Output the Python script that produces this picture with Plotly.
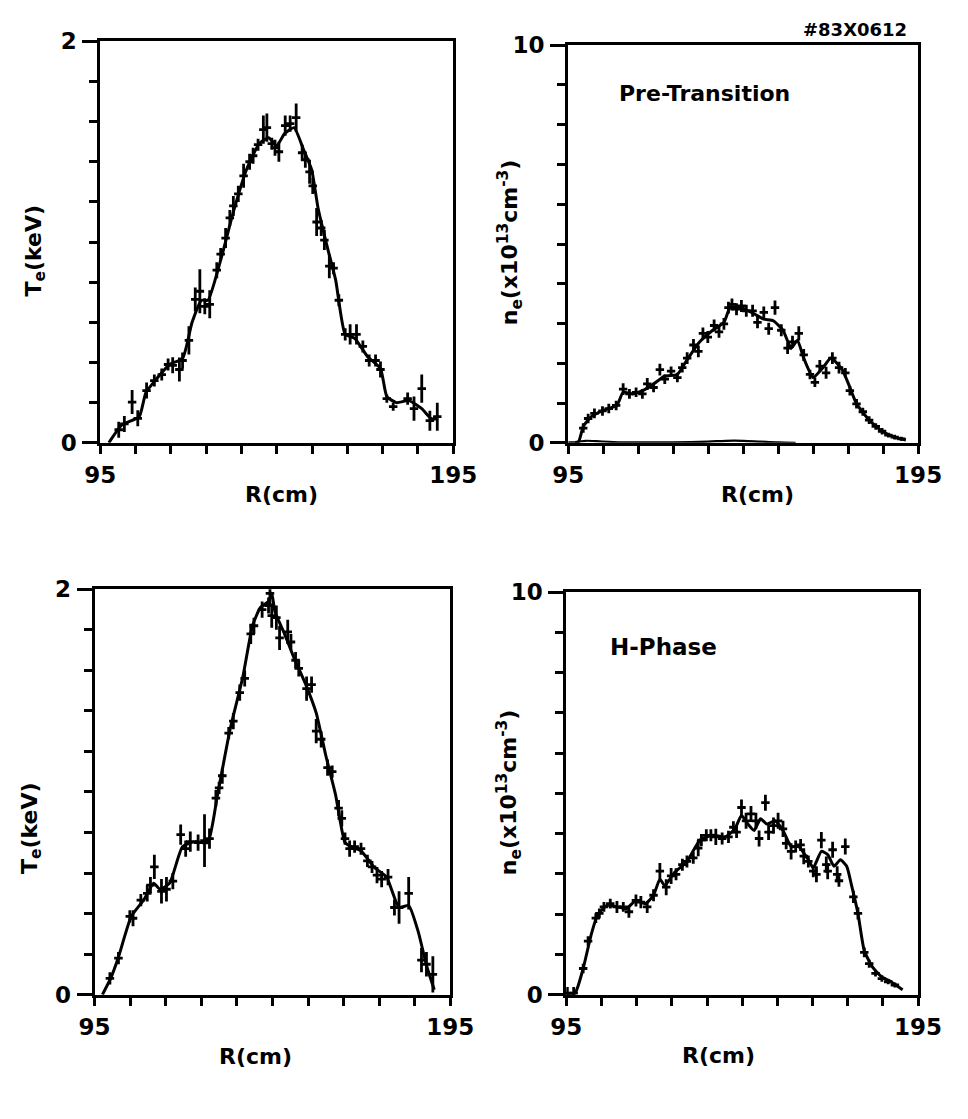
import plotly.graph_objects as go

# ---------------- Pre-transition Te ----------------
R_te_pre = [100.2, 101.8, 104.0, 105.6, 108.1, 110.3, 112.4, 114.2, 115.5, 117.4, 118.3, 120.1,
            121.9, 123.2, 124.6, 126.0, 128.0, 129.1, 130.5, 131.7, 132.7, 134.1, 135.6, 137.3,
            138.3, 139.7, 141.2, 142.2, 143.6, 144.5, 145.6, 147.4, 148.8, 150.5, 152.2, 153.1,
            154.3, 155.2, 156.3, 157.6, 158.5, 159.9, 161.1, 162.6, 164.4, 165.8, 167.6, 169.4,
            171.2, 173.0, 174.4, 176.2, 178.0, 182.1, 183.9, 186.1, 188.4, 190.5]
Te_pre = [0.065, 0.094, 0.203, 0.122, 0.26, 0.31, 0.34, 0.39, 0.386, 0.365, 0.41, 0.51,
          0.714, 0.755, 0.68, 0.69, 0.86, 0.94, 1.02, 1.12, 1.18, 1.24, 1.33, 1.40,
          1.43, 1.485, 1.56, 1.57, 1.49, 1.47, 1.45, 1.58, 1.59, 1.62, 1.445, 1.41,
          1.35, 1.28, 1.10, 1.07, 1.01, 0.88, 0.87, 0.71, 0.54, 0.54, 0.54, 0.48,
          0.41, 0.41, 0.365, 0.22, 0.18, 0.22, 0.17, 0.27, 0.11, 0.13]
Te_pre_err = [0.04, 0.04, 0.06, 0.04, 0.04, 0.03, 0.03, 0.03, 0.04, 0.06, 0.04, 0.07,
              0.06, 0.11, 0.04, 0.07, 0.04, 0.03, 0.05, 0.04, 0.05, 0.04, 0.06, 0.04,
              0.04, 0.03, 0.07, 0.07, 0.03, 0.04, 0.05, 0.05, 0.04, 0.07, 0.04, 0.04,
              0.06, 0.04, 0.07, 0.04, 0.05, 0.06, 0.03, 0.03, 0.03, 0.05, 0.05, 0.03,
              0.03, 0.03, 0.04, 0.02, 0.02, 0.03, 0.06, 0.07, 0.05, 0.07]
R_te_pre_fit = [97.4, 101.1, 106.0, 107.9, 111.0, 114.6, 118.3, 121.0, 123.7, 125.5, 129.1, 132.7,
                136.4, 140.0, 142.7, 145.0, 147.2, 149.9, 152.6, 154.9, 156.7, 159.4, 161.7, 164.4,
                167.1, 170.7, 174.4, 176.2, 178.9, 182.5, 186.1, 188.8, 190.5]
Te_pre_fit = [0.0, 0.089, 0.13, 0.25, 0.32, 0.39, 0.42, 0.60, 0.71, 0.71, 0.91, 1.15,
              1.36, 1.49, 1.52, 1.48, 1.54, 1.57, 1.46, 1.36, 1.17, 0.97, 0.81, 0.54,
              0.52, 0.43, 0.37, 0.23, 0.20, 0.21, 0.17, 0.12, 0.12]

# ---------------- Pre-transition ne ----------------
R_ne_pre = [99.3, 100.7, 102.5, 104.8, 106.6, 108.7, 110.7, 112.5, 114.4, 116.2, 117.6, 119.4,
            121.2, 122.6, 124.4, 126.2, 127.6, 129.0, 130.8, 132.2, 133.5, 134.9, 136.7, 138.1,
            139.5, 140.8, 141.8, 143.1, 144.5, 145.9, 147.7, 149.1, 150.9, 152.3, 154.1, 155.9,
            157.7, 159.1, 160.9, 162.3, 164.1, 165.5, 166.9, 168.7, 170.5, 172.4, 174.2, 175.5,
            177.4, 179.2, 181.0, 182.9, 184.7, 186.5, 188.3, 190.2]
ne_pre = [0.37, 0.61, 0.74, 0.80, 0.86, 0.94, 1.35, 1.23, 1.27, 1.23, 1.48, 1.39,
          1.84, 1.60, 1.80, 1.64, 1.89, 2.13, 2.46, 2.30, 2.75, 2.66, 2.95, 2.79,
          2.99, 3.40, 3.48, 3.36, 3.44, 3.32, 3.32, 3.03, 3.28, 2.87, 3.40, 2.83,
          2.38, 2.54, 2.75, 2.21, 1.72, 1.52, 1.93, 1.76, 2.13, 1.89, 1.76, 1.31,
          0.98, 0.78, 0.57, 0.41, 0.29, 0.19, 0.14, 0.10]
ne_pre_err = [0.12, 0.12, 0.12, 0.12, 0.12, 0.12, 0.15, 0.12, 0.12, 0.12, 0.15, 0.12,
              0.15, 0.12, 0.12, 0.12, 0.12, 0.15, 0.15, 0.15, 0.15, 0.15, 0.15, 0.15,
              0.15, 0.15, 0.15, 0.15, 0.15, 0.15, 0.15, 0.15, 0.15, 0.15, 0.18, 0.15,
              0.15, 0.15, 0.18, 0.15, 0.12, 0.12, 0.15, 0.15, 0.15, 0.15, 0.12, 0.12,
              0.12, 0.10, 0.10, 0.08, 0.08, 0.06, 0.06, 0.05]
R_ne_pre_fit = [95.0, 97.9, 99.3, 101.6, 105.2, 108.9, 110.7, 113.4, 116.2, 119.4, 122.6, 126.2,
                129.0, 132.6, 136.3, 139.5, 141.3, 144.5, 148.2, 150.9, 153.6, 156.4, 158.7, 160.5,
                162.3, 165.0, 167.8, 170.1, 173.3, 175.1, 177.4, 181.0, 184.7, 188.3, 191.5]
ne_pre_fit = [0.0, 0.02, 0.41, 0.66, 0.82, 0.94, 1.27, 1.23, 1.31, 1.48, 1.68, 1.72,
              2.09, 2.54, 2.83, 3.03, 3.40, 3.40, 3.24, 3.11, 3.07, 2.83, 2.38, 2.58,
              2.13, 1.64, 1.89, 2.13, 1.84, 1.48, 0.98, 0.57, 0.29, 0.14, 0.07]
R_ne_pre_base = [97.0, 100.0, 103.0, 108.0, 115.0, 125.0, 135.0, 140.0, 145.0, 150.0, 155.0, 160.0]
ne_pre_base = [0.02, 0.05, 0.04, 0.02, 0.01, 0.01, 0.03, 0.05, 0.05, 0.03, 0.01, 0.0]

# ---------------- H-phase Te ----------------
R_te_h = [99.3, 101.7, 104.9, 105.8, 108.0, 109.8, 110.7, 111.8, 113.8, 115.2, 117.0, 119.2,
          120.6, 121.9, 124.1, 125.9, 127.3, 129.1, 130.0, 130.9, 132.7, 134.0, 135.8, 137.2,
          138.9, 139.8, 142.1, 143.9, 144.3, 144.8, 146.1, 147.0, 149.3, 150.2, 151.5, 152.4,
          154.6, 156.0, 157.3, 158.7, 160.5, 161.8, 163.6, 164.5, 165.4, 166.7, 168.1, 169.9,
          171.7, 173.0, 174.4, 175.7, 177.5, 179.3, 180.6, 183.3, 186.9, 188.3, 190.1]
Te_h = [0.08, 0.18, 0.386, 0.377, 0.466, 0.50, 0.54, 0.63, 0.51, 0.52, 0.56, 0.79,
        0.72, 0.755, 0.75, 0.76, 0.77, 0.97, 1.02, 1.08, 1.29, 1.35, 1.49, 1.56,
        1.78, 1.82, 1.90, 1.92, 1.98, 1.87, 1.86, 1.76, 1.79, 1.74, 1.65, 1.61,
        1.51, 1.53, 1.30, 1.26, 1.12, 1.10, 0.92, 0.87, 0.77, 0.72, 0.73, 0.72,
        0.66, 0.63, 0.59, 0.57, 0.58, 0.43, 0.43, 0.50, 0.17, 0.15, 0.10]
Te_h_err = [0.03, 0.03, 0.03, 0.04, 0.03, 0.04, 0.04, 0.06, 0.06, 0.06, 0.04, 0.05,
            0.04, 0.05, 0.04, 0.13, 0.05, 0.04, 0.03, 0.04, 0.03, 0.04, 0.04, 0.04,
            0.05, 0.04, 0.04, 0.04, 0.06, 0.06, 0.06, 0.06, 0.06, 0.04, 0.04, 0.04,
            0.06, 0.04, 0.06, 0.04, 0.04, 0.03, 0.04, 0.04, 0.03, 0.04, 0.03, 0.03,
            0.03, 0.03, 0.04, 0.04, 0.04, 0.04, 0.08, 0.08, 0.06, 0.06, 0.09]
R_te_h_fit = [97.2, 99.5, 101.7, 105.3, 108.9, 111.6, 113.4, 116.1, 119.7, 123.3, 126.8, 129.5,
              133.1, 136.7, 139.4, 141.6, 143.9, 144.8, 145.7, 148.4, 151.1, 154.6, 157.3, 160.0,
              162.7, 165.4, 167.2, 169.9, 173.5, 177.1, 180.6, 183.3, 186.0, 188.3, 190.5]
Te_h_fit = [0.0, 0.08, 0.185, 0.386, 0.47, 0.55, 0.52, 0.55, 0.73, 0.755, 0.75, 0.98,
            1.31, 1.57, 1.82, 1.91, 1.94, 1.98, 1.89, 1.78, 1.66, 1.52, 1.39, 1.18,
            0.99, 0.75, 0.73, 0.71, 0.63, 0.58, 0.43, 0.44, 0.31, 0.145, 0.024]

# ---------------- H-phase ne ----------------
R_ne_h = [95.3, 97.1, 99.8, 101.2, 103.4, 104.4, 105.7, 107.5, 109.4, 111.2, 112.8, 114.8,
          116.2, 118.0, 119.8, 121.6, 123.4, 124.8, 126.2, 128.0, 129.3, 131.1, 132.5, 133.4,
          134.8, 136.1, 137.5, 139.3, 141.1, 142.5, 143.4, 144.8, 146.1, 147.5, 148.9, 149.8,
          151.6, 152.5, 153.9, 155.2, 156.6, 157.5, 158.9, 160.2, 161.6, 162.5, 163.8, 165.2,
          166.1, 167.5, 168.9, 169.3, 170.7, 172.0, 172.5, 174.3, 176.6, 177.9, 179.7, 181.1,
          182.9, 184.7, 186.5, 188.4]
ne_h = [0.04, 0.04, 0.65, 1.33, 1.90, 2.02, 2.18, 2.26, 2.18, 2.18, 2.06, 2.34,
        2.30, 2.18, 2.47, 3.07, 2.67, 2.95, 2.99, 3.23, 3.31, 3.40, 3.64, 3.84,
        3.96, 3.96, 3.92, 3.88, 3.92, 4.16, 4.04, 4.65, 4.32, 4.49, 4.32, 3.88,
        4.77, 4.04, 4.20, 4.32, 4.12, 3.76, 3.56, 3.68, 3.72, 3.44, 3.31, 3.07,
        2.99, 3.84, 3.23, 3.07, 3.60, 2.99, 2.83, 3.68, 2.43, 2.02, 1.05, 0.77,
        0.53, 0.40, 0.32, 0.24]
ne_h_err = [0.15, 0.15, 0.12, 0.12, 0.12, 0.12, 0.12, 0.12, 0.15, 0.12, 0.15, 0.15,
            0.15, 0.15, 0.15, 0.20, 0.20, 0.20, 0.15, 0.15, 0.15, 0.15, 0.20, 0.15,
            0.15, 0.15, 0.20, 0.15, 0.15, 0.15, 0.15, 0.20, 0.20, 0.20, 0.20, 0.20,
            0.20, 0.20, 0.20, 0.20, 0.20, 0.15, 0.20, 0.15, 0.15, 0.20, 0.15, 0.15,
            0.20, 0.20, 0.20, 0.20, 0.20, 0.20, 0.15, 0.20, 0.15, 0.15, 0.12, 0.10,
            0.08, 0.08, 0.06, 0.06]
R_ne_h_fit = [95.0, 97.5, 99.8, 102.1, 103.9, 106.6, 109.4, 112.1, 114.8, 117.5, 119.8, 121.6,
              123.0, 125.7, 129.3, 133.0, 136.6, 140.2, 142.9, 144.8, 146.6, 148.4, 150.2, 152.0,
              154.3, 156.6, 158.9, 161.1, 163.8, 165.2, 167.5, 169.3, 171.1, 172.9, 174.7, 176.1,
              177.9, 179.7, 182.0, 184.7, 187.5, 190.6]
ne_h_fit = [0.0, 0.04, 0.65, 1.50, 1.98, 2.22, 2.18, 2.14, 2.34, 2.26, 2.47, 2.87,
            2.71, 3.03, 3.31, 3.84, 3.96, 3.92, 4.12, 4.45, 4.24, 4.08, 4.37, 4.24,
            4.32, 4.08, 3.68, 3.68, 3.35, 3.15, 3.56, 3.48, 3.19, 3.35, 3.19, 2.71,
            2.02, 1.09, 0.69, 0.44, 0.31, 0.12]

R_major = [95, 195]
R_labels = ["95", "195"]
R_minor = [105, 115, 125, 135, 145, 155, 165, 175, 185]
Te_major = [0, 2]
Te_labels = ["0", "2"]
Te_minor = [0.2, 0.4, 0.6, 0.8, 1.0, 1.2, 1.4, 1.6, 1.8]
ne_major = [0, 10]
ne_labels = ["0", "10"]
ne_minor = [1, 2, 3, 4, 5, 6, 7, 8, 9]

FONT = "DejaVu Sans"
W, H = 968, 1119


def px(x):
    return x / W


def py(y):
    return 1 - y / H


fig = go.Figure()

panels = [
    (R_te_pre, Te_pre, Te_pre_err, R_te_pre_fit, Te_pre_fit, "x", "y"),
    (R_ne_pre, ne_pre, ne_pre_err, R_ne_pre_fit, ne_pre_fit, "x2", "y2"),
    (R_te_h, Te_h, Te_h_err, R_te_h_fit, Te_h_fit, "x3", "y3"),
    (R_ne_h, ne_h, ne_h_err, R_ne_h_fit, ne_h_fit, "x4", "y4"),
]

for R, v, err, Rf, vf, xa, ya in panels:
    fig.add_trace(go.Scatter(x=Rf, y=vf, mode="lines", xaxis=xa, yaxis=ya,
                             line=dict(color="black", width=3, shape="spline", smoothing=0.5),
                             showlegend=False, hoverinfo="skip"))
    fig.add_trace(go.Scatter(x=R, y=v, mode="markers", xaxis=xa, yaxis=ya,
                             marker=dict(size=3, color="black"),
                             error_y=dict(type="data", array=err, color="black", thickness=2.8, width=0),
                             error_x=dict(type="constant", value=1.2, color="black", thickness=2.8, width=0),
                             showlegend=False))

fig.add_trace(go.Scatter(x=R_ne_pre_base, y=ne_pre_base, mode="lines", xaxis="x2", yaxis="y2",
                         line=dict(color="black", width=2.2, shape="spline"), showlegend=False))

domains = {
    1: ([px(88), px(456)], [py(440), py(29)]),
    2: ([px(576), px(941)], [py(440), py(33)]),
    3: ([px(82), px(453)], [py(1005), py(590)]),
    4: ([px(574), px(941)], [py(1005), py(593)]),
}

axis_common = dict(showline=True, linecolor="black", linewidth=3, mirror=True,
                   ticks="outside", tickwidth=2.5, tickcolor="black",
                   showgrid=False, zeroline=False,
                   tickfont=dict(family=FONT, size=23, color="black", weight="bold"))

layout = dict(width=W, height=H, autosize=False, margin=dict(l=0, r=0, t=0, b=0),
              paper_bgcolor="white", plot_bgcolor="white", showlegend=False)

for i in range(1, 5):
    xd, yd = domains[i]
    sx = "" if i == 1 else str(i)
    if i in (1, 3):
        yvals, ytext, yminor, yr = Te_major, Te_labels, Te_minor, [0, 2]
    else:
        yvals, ytext, yminor, yr = ne_major, ne_labels, ne_minor, [0, 10]
    layout["xaxis" + sx] = dict(axis_common, domain=xd, range=[95, 195], tickvals=R_major,
                                ticktext=R_labels, anchor="y" + sx, ticklen=8,
                                ticklabelstandoff=2,
                                minor=dict(tickvals=R_minor, ticks="outside", ticklen=8,
                                           tickwidth=2.5, tickcolor="black", showgrid=False))
    layout["yaxis" + sx] = dict(axis_common, domain=yd, range=yr, tickvals=yvals,
                                ticktext=ytext, anchor="x" + sx, ticklen=15,
                                ticklabelstandoff=1,
                                minor=dict(tickvals=yminor, ticks="outside", ticklen=8,
                                           tickwidth=2.5, tickcolor="black", showgrid=False))

fig.update_layout(**layout)

ann_font = dict(family=FONT, size=22, color="black", weight="bold")
annotations = [
    dict(text="R(cm)", x=px(277), y=py(493)),
    dict(text="R(cm)", x=px(773), y=py(493)),
    dict(text="R(cm)", x=px(250), y=py(1068)),
    dict(text="R(cm)", x=px(733), y=py(1067)),
    dict(text="T<sub>e</sub>(keV)", x=px(20), y=py(243), textangle=-90),
    dict(text="T<sub>e</sub>(keV)", x=px(16), y=py(834), textangle=-90),
    dict(text="n<sub>e</sub>(x10<sup>13</sup>cm<sup>-3</sup>)", x=px(515), y=py(235), textangle=-90),
    dict(text="n<sub>e</sub>(x10<sup>13</sup>cm<sup>-3</sup>)", x=px(515), y=py(798), textangle=-90),
]
for a in annotations:
    a.update(xref="paper", yref="paper", showarrow=False, xanchor="center", yanchor="middle",
             font=ann_font)
    fig.add_annotation(**a)

fig.add_annotation(text="#83X0612", x=px(875), y=py(17), xref="paper", yref="paper",
                   showarrow=False, xanchor="center", yanchor="middle",
                   font=dict(family=FONT, size=18, color="black", weight="bold"))
fig.add_annotation(text="Pre-Transition", x=px(627), y=py(82), xref="paper", yref="paper",
                   showarrow=False, xanchor="left", yanchor="middle",
                   font=dict(family=FONT, size=22, color="black", weight="bold"))
fig.add_annotation(text="H-Phase", x=px(618), y=py(649), xref="paper", yref="paper",
                   showarrow=False, xanchor="left", yanchor="middle",
                   font=dict(family=FONT, size=23, color="black", weight="bold"))

fig.write_html("out.html")
